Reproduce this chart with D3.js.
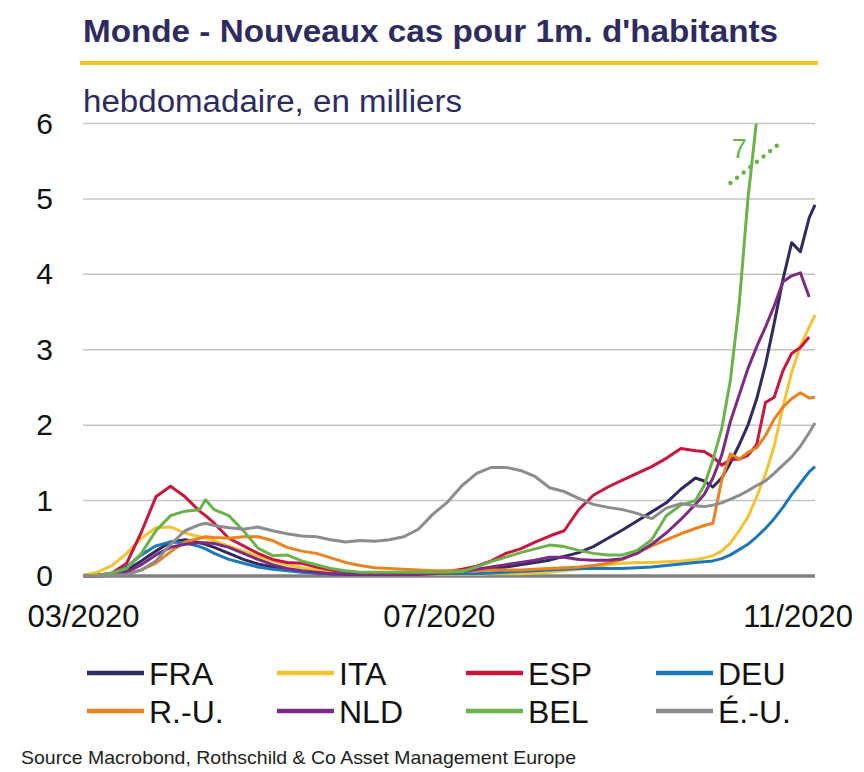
<!DOCTYPE html>
<html>
<head>
<meta charset="utf-8">
<script src="https://cdn.jsdelivr.net/npm/d3@7"></script>
<style>
  body { margin: 0; background: #fff; }
  svg { display: block; font-family: "Liberation Sans", Arial, sans-serif; }
</style>
</head>
<body>
<script>
// dates of the weekly rolling series (new cases per 1m inhabitants, thousands)
const dates = [
  "2020-03-01", "2020-03-06", "2020-03-11", "2020-03-16", "2020-03-21", "2020-03-26",
  "2020-03-31", "2020-04-05", "2020-04-10", "2020-04-12", "2020-04-15", "2020-04-20",
  "2020-04-25", "2020-04-30", "2020-05-05", "2020-05-10", "2020-05-15", "2020-05-20",
  "2020-05-25", "2020-05-30", "2020-06-04", "2020-06-09", "2020-06-14", "2020-06-19",
  "2020-06-24", "2020-06-29", "2020-07-04", "2020-07-09", "2020-07-14", "2020-07-19",
  "2020-07-24", "2020-07-29", "2020-08-03", "2020-08-08", "2020-08-13", "2020-08-18",
  "2020-08-23", "2020-08-28", "2020-09-02", "2020-09-07", "2020-09-12", "2020-09-17",
  "2020-09-22", "2020-09-27", "2020-09-30", "2020-10-03", "2020-10-06", "2020-10-09",
  "2020-10-12", "2020-10-15", "2020-10-18", "2020-10-21", "2020-10-24", "2020-10-27",
  "2020-10-30", "2020-11-02", "2020-11-05", "2020-11-07"
];

const FRA = [0, 0.01, 0.03, 0.08, 0.2, 0.33, 0.45, 0.48, 0.44, 0.42,
  0.38, 0.3, 0.22, 0.16, 0.12, 0.08, 0.06, 0.04, 0.03, 0.03,
  0.03, 0.03, 0.03, 0.03, 0.03, 0.04, 0.05, 0.06, 0.08, 0.1,
  0.12, 0.15, 0.18, 0.21, 0.26, 0.31, 0.39, 0.5, 0.61, 0.73,
  0.85, 0.97, 1.15, 1.3, 1.26, 1.18, 1.3, 1.5, 1.74, 2.0,
  2.35, 2.8, 3.35, 3.93, 4.42, 4.3, 4.75, 4.92];

const ITA = [0.01, 0.05, 0.14, 0.3, 0.5, 0.64, 0.65, 0.57, 0.52, 0.5,
  0.47, 0.4, 0.33, 0.26, 0.2, 0.15, 0.11, 0.08, 0.06, 0.04,
  0.03, 0.02, 0.02, 0.02, 0.02, 0.02, 0.02, 0.02, 0.02, 0.03,
  0.03, 0.03, 0.04, 0.05, 0.07, 0.09, 0.12, 0.15, 0.17, 0.18,
  0.18, 0.19, 0.2, 0.22, 0.24, 0.27, 0.33, 0.44, 0.6, 0.78,
  1.05, 1.35, 1.72, 2.24, 2.7, 3.05, 3.3, 3.46];

const ESP = [0, 0.01, 0.04, 0.17, 0.58, 1.05, 1.19, 1.05, 0.86, 0.8,
  0.7, 0.5, 0.4, 0.3, 0.22, 0.18, 0.17, 0.12, 0.08, 0.05,
  0.04, 0.03, 0.03, 0.03, 0.03, 0.04, 0.06, 0.09, 0.13, 0.2,
  0.3, 0.36, 0.45, 0.53, 0.6, 0.88, 1.07, 1.18, 1.27, 1.36,
  1.45, 1.56, 1.69, 1.66, 1.65, 1.58, 1.47, 1.54, 1.55, 1.6,
  1.74, 2.3, 2.37, 2.72, 2.95, 3.03, 3.17, null];

const DEU = [0, 0.01, 0.03, 0.12, 0.28, 0.4, 0.45, 0.44, 0.39, 0.36,
  0.3, 0.22, 0.17, 0.12, 0.09, 0.07, 0.05, 0.04, 0.03, 0.03,
  0.03, 0.03, 0.03, 0.03, 0.03, 0.03, 0.03, 0.03, 0.03, 0.04,
  0.05, 0.06, 0.07, 0.08, 0.09, 0.1, 0.1, 0.1, 0.1, 0.11,
  0.12, 0.14, 0.16, 0.18, 0.19, 0.2, 0.23, 0.28, 0.35, 0.42,
  0.52, 0.63, 0.76, 0.91, 1.08, 1.23, 1.38, 1.45];

const RU = [0, 0, 0.01, 0.03, 0.08, 0.17, 0.32, 0.45, 0.5, 0.52,
  0.51, 0.5, 0.52, 0.52, 0.47, 0.38, 0.33, 0.3, 0.24, 0.18,
  0.14, 0.11, 0.1, 0.09, 0.08, 0.07, 0.07, 0.07, 0.07, 0.08,
  0.08, 0.08, 0.09, 0.1, 0.11, 0.12, 0.14, 0.17, 0.22, 0.31,
  0.4, 0.48, 0.56, 0.63, 0.67, 0.7, 1.27, 1.62, 1.55, 1.64,
  1.7, 1.86, 2.08, 2.24, 2.35, 2.43, 2.36, 2.37];

const NLD = [0, 0, 0.01, 0.05, 0.15, 0.28, 0.38, 0.42, 0.44, 0.44,
  0.43, 0.38, 0.3, 0.22, 0.15, 0.1, 0.07, 0.05, 0.03, 0.02,
  0.02, 0.02, 0.02, 0.02, 0.02, 0.03, 0.04, 0.06, 0.09, 0.12,
  0.15, 0.18, 0.21, 0.25, 0.25, 0.22, 0.21, 0.21, 0.23, 0.3,
  0.42, 0.57, 0.75, 0.95, 1.08, 1.3, 1.6, 2.05, 2.4, 2.75,
  3.04, 3.3, 3.58, 3.9, 3.98, 4.02, 3.7, null];

const BEL = [0, 0.01, 0.04, 0.1, 0.3, 0.6, 0.8, 0.86, 0.88, 1.01,
  0.88, 0.8, 0.6, 0.37, 0.27, 0.28, 0.2, 0.15, 0.1, 0.07,
  0.05, 0.05, 0.05, 0.05, 0.05, 0.05, 0.05, 0.06, 0.12, 0.19,
  0.25, 0.31, 0.36, 0.41, 0.39, 0.34, 0.3, 0.28, 0.28, 0.34,
  0.48, 0.8, 0.94, 1.0, 1.2, 1.54, 1.95, 2.6, 3.6, 5.0,
  6.05, 6.7, 7.1, 7.0, 6.8, 6.4, 6.2, 6.1];

const USA = [0, 0, 0.01, 0.02, 0.08, 0.2, 0.42, 0.6, 0.68, 0.7,
  0.67, 0.64, 0.62, 0.65, 0.6, 0.56, 0.53, 0.52, 0.48, 0.45,
  0.47, 0.46, 0.48, 0.52, 0.62, 0.82, 0.98, 1.2, 1.36, 1.44,
  1.44, 1.4, 1.32, 1.17, 1.12, 1.03, 0.95, 0.91, 0.88, 0.83,
  0.76, 0.9, 0.96, 0.93, 0.92, 0.94, 0.97, 1.02, 1.07, 1.13,
  1.2, 1.26, 1.36, 1.47, 1.58, 1.72, 1.9, 2.03];

const seriesNames = ["FRA", "ITA", "ESP", "DEU", "R.-U.", "NLD", "BEL", "É.-U."];
const seriesValues = [FRA, ITA, ESP, DEU, RU, NLD, BEL, USA];
const colors = ["#2e2b60", "#f2c335", "#c8173f", "#1c78b6", "#e8831f", "#7c2b85", "#6cb24a", "#8c8c8c"];

const yTicks = [0, 1, 2, 3, 4, 5, 6];
const xTicks = ["2020-03-01", "2020-07-01", "2020-11-01"];

// off-scale marker for BEL (peak near 7)
const breakLabel = { date: "2020-10-12", value: 5.54, text: "7" };
const breakLine = [{ date: "2020-10-09", value: 5.21 }, { date: "2020-10-26", value: 5.74 }];

const w = 864, h = 772;
const parse = d3.timeParse("%Y-%m-%d");
const plotLeft = 83, plotRight = 815, plotTop = 123.5, plotBottom = 576;

const svg = d3.select("body").append("svg")
  .attr("width", w)
  .attr("height", h);

svg.append("rect").attr("width", w).attr("height", h).attr("fill", "#fff");

let xScale = d3.scaleTime()
  .domain([parse(dates[0]), parse(dates[dates.length - 1])])
  .range([plotLeft, plotRight]);
let yScale = d3.scaleLinear()
  .domain([0, 6])
  .range([plotBottom, plotTop]);

// title block
svg.append("text")
  .attr("x", 83).attr("y", 42)
  .attr("font-size", 31).attr("font-weight", "bold")
  .attr("fill", "#2e2b5e")
  .attr("textLength", 695).attr("lengthAdjust", "spacingAndGlyphs")
  .text("Monde - Nouveaux cas pour 1m. d'habitants");
svg.append("line")
  .attr("x1", 80).attr("x2", 818).attr("y1", 63).attr("y2", 63)
  .attr("stroke", "#f5c51c").attr("stroke-width", 4);
svg.append("text")
  .attr("x", 83).attr("y", 112)
  .attr("font-size", 31)
  .attr("fill", "#2e2b5e")
  .attr("textLength", 379).attr("lengthAdjust", "spacingAndGlyphs")
  .text("hebdomadaire, en milliers");

// gridlines
svg.append("g")
  .selectAll("line")
  .data(yTicks.filter(d => d > 0))
  .enter()
  .append("line")
  .attr("x1", plotLeft).attr("x2", plotRight)
  .attr("y1", d => yScale(d)).attr("y2", d => yScale(d))
  .attr("stroke", "#c4c4c4").attr("stroke-width", 1.5);

// zero line
svg.append("line")
  .attr("x1", plotLeft).attr("x2", plotRight)
  .attr("y1", yScale(0)).attr("y2", yScale(0))
  .attr("stroke", "#808080").attr("stroke-width", 3.5);

// y axis labels
const yAxis = svg.append("g")
  .attr("transform", "translate(" + plotLeft + ",0)")
  .call(d3.axisLeft(yScale).tickValues(yTicks).tickSize(0).tickPadding(30).tickFormat(d3.format("d")));
yAxis.select(".domain").remove();
yAxis.selectAll("text")
  .attr("font-size", 30).attr("fill", "#111")
  .attr("font-family", "'Liberation Sans', Arial, sans-serif");

// x axis labels
const xAxis = svg.append("g")
  .attr("transform", "translate(0," + plotBottom + ")")
  .call(d3.axisBottom(xScale).tickValues(xTicks.map(parse)).tickSize(0).tickPadding(29)
    .tickFormat(d3.timeFormat("%m/%Y")));
xAxis.select(".domain").remove();
xAxis.selectAll("text")
  .attr("font-size", 31).attr("fill", "#111")
  .attr("font-family", "'Liberation Sans', Arial, sans-serif");

// lines
svg.append("clipPath").attr("id", "plotClip")
  .append("rect")
  .attr("x", plotLeft - 2).attr("y", plotTop)
  .attr("width", plotRight - plotLeft + 6).attr("height", plotBottom - plotTop + 10);

const line = d3.line()
  .defined(d => d.v !== null)
  .x(d => xScale(d.date))
  .y(d => yScale(d.v));

const series = seriesNames.map((name, i) => ({
  name: name,
  color: colors[i],
  points: dates.map((dt, j) => ({ date: parse(dt), v: seriesValues[i][j] }))
}));

svg.append("g")
  .attr("clip-path", "url(#plotClip)")
  .selectAll("path")
  .data(series)
  .enter()
  .append("path")
  .attr("d", d => line(d.points))
  .attr("fill", "none")
  .attr("stroke", d => d.color)
  .attr("stroke-width", 3)
  .attr("stroke-linejoin", "round");

// BEL off-scale marker
svg.append("path")
  .attr("d", d3.line().x(d => xScale(parse(d.date))).y(d => yScale(d.value))(breakLine))
  .attr("stroke", colors[6]).attr("stroke-width", 4.5)
  .attr("stroke-linecap", "round").attr("stroke-dasharray", "0,8.5")
  .attr("fill", "none");
svg.append("text")
  .attr("x", xScale(parse(breakLabel.date)))
  .attr("y", yScale(breakLabel.value))
  .attr("text-anchor", "middle")
  .attr("font-size", 27).attr("fill", colors[6])
  .text(breakLabel.text);

// legend
const legendCols = [87, 277, 466, 656];
const legendRows = [673, 711];
const legend = svg.append("g")
  .selectAll("g")
  .data(series)
  .enter()
  .append("g")
  .attr("transform", (d, i) => "translate(" + legendCols[i % 4] + "," + legendRows[Math.floor(i / 4)] + ")");
legend.append("line")
  .attr("x1", 0).attr("x2", 57)
  .attr("stroke", d => d.color).attr("stroke-width", 4.5);
legend.append("text")
  .attr("x", 62).attr("y", 12)
  .attr("font-size", 32).attr("fill", "#111")
  .text(d => d.name);

// source
svg.append("text")
  .attr("x", 21).attr("y", 764)
  .attr("font-size", 19).attr("fill", "#222")
  .attr("textLength", 555).attr("lengthAdjust", "spacingAndGlyphs")
  .text("Source Macrobond, Rothschild & Co Asset Management Europe");
</script>
</body>
</html>
